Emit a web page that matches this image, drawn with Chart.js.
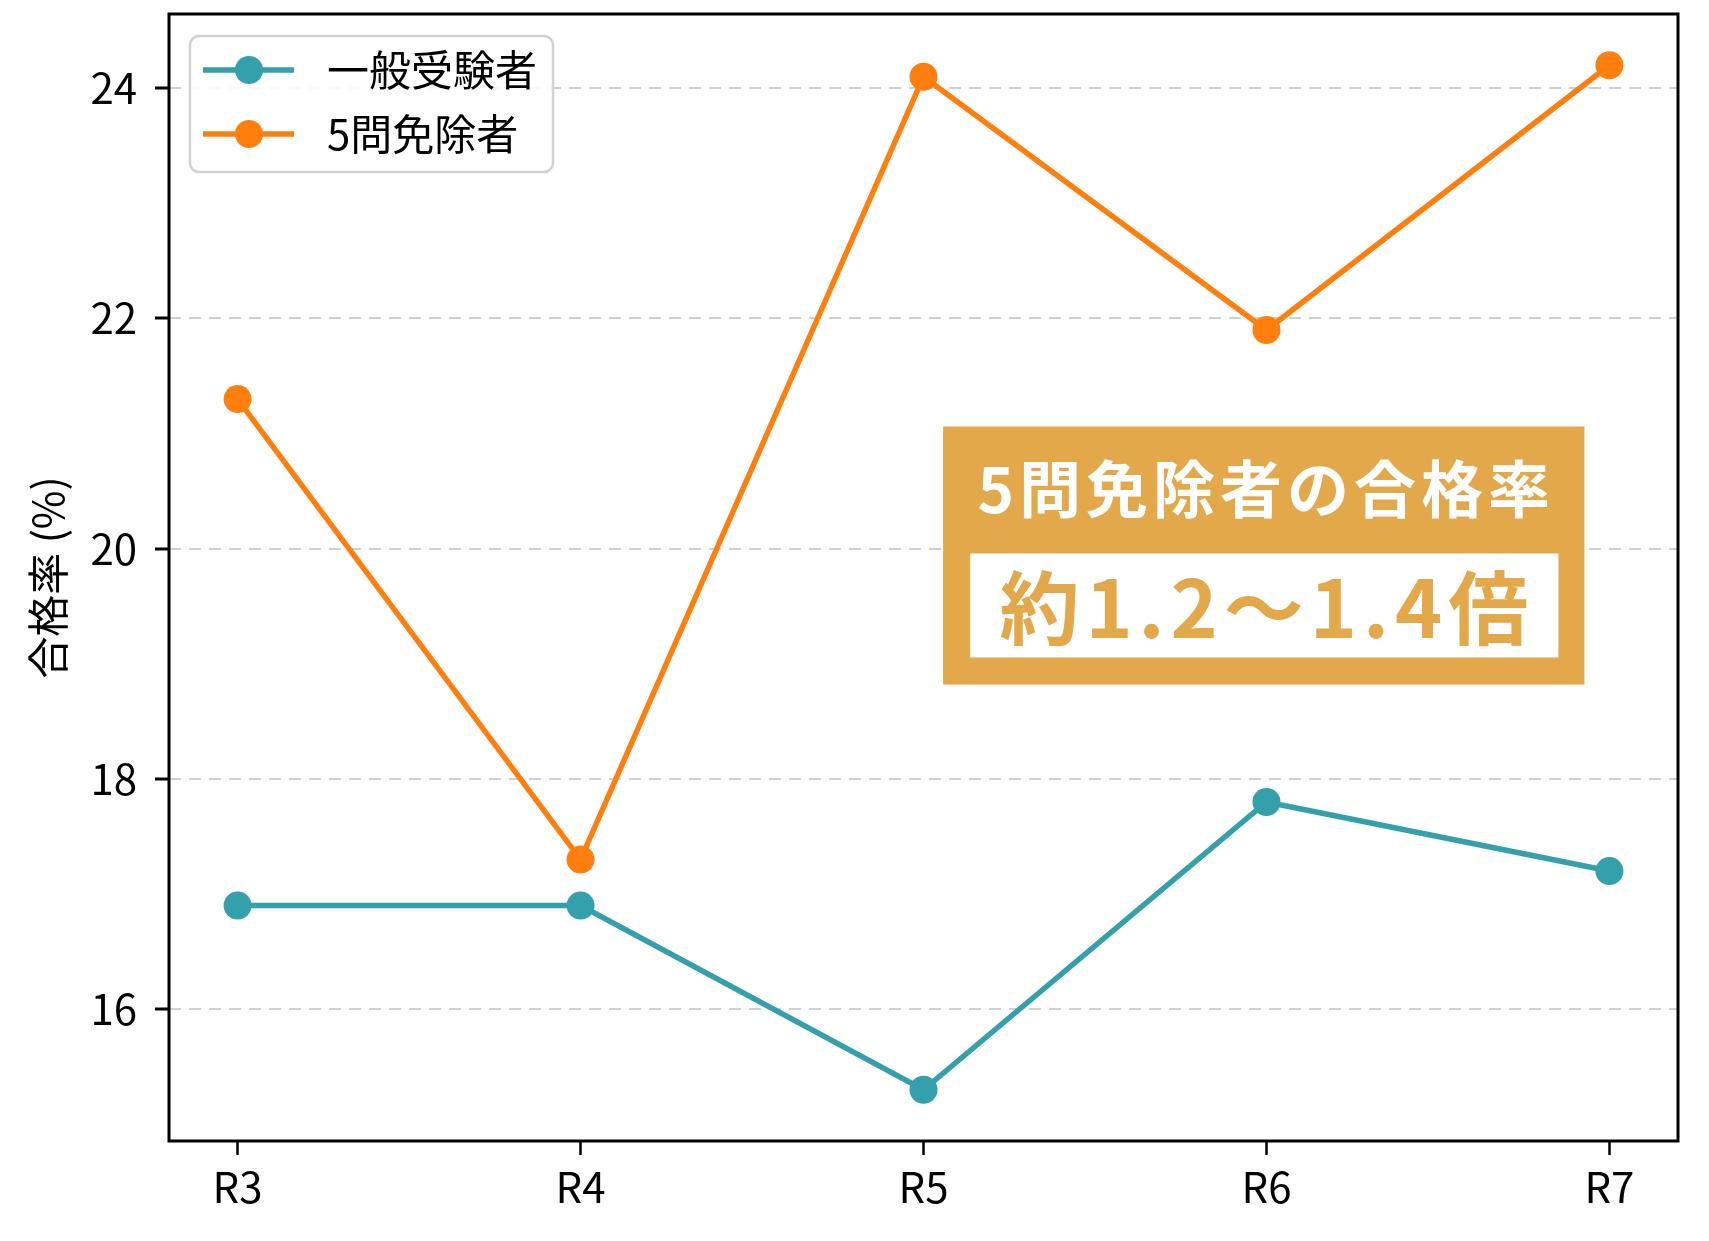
<!DOCTYPE html>
<html lang="ja">
<head>
<meta charset="utf-8">
<title>合格率の推移</title>
<script src="https://cdn.jsdelivr.net/npm/chart.js@4/dist/chart.umd.min.js"></script>
<style>
  html, body { margin: 0; padding: 0; background: #fff; }
  #wrap { width: 1709px; height: 1241px; position: relative; }
</style>
</head>
<body>
<div id="wrap"><canvas id="chart"></canvas></div>
<script>
const FONT = '"Noto Sans CJK JP", "Noto Sans", sans-serif';

const years = ["R3", "R4", "R5", "R6", "R7"];
const generalRates = [16.9, 16.9, 15.3, 17.8, 17.2];
const exemptRates = [21.3, 17.3, 24.1, 21.9, 24.2];
const seriesNames = ["一般受験者", "5問免除者"];
const yTicks = [16, 18, 20, 22, 24];
const noteTitle = "5問免除者の合格率";
const noteValue = "約1.2〜1.4倍";

const TEAL = "#34a0ac";
const ORANGE = "#ff7f0e";
const GOLD = "#e3a84a";

// matplotlib style 5% margins
const yMin = Math.min(...generalRates, ...exemptRates);
const yMax = Math.max(...generalRates, ...exemptRates);
const yPad = (yMax - yMin) * 0.05;
const xPad = (years.length - 1) * 0.05;

function points(values) {
  return values.map((v, i) => ({ x: i, y: v }));
}

const framePlugin = {
  id: "frameAndExtras",
  afterDatasetsDraw(chart) {
    const { ctx, chartArea: a } = chart;
    ctx.save();

    // note box
    const bx = a.left + (a.right - a.left) * 0.513;
    const bw = (a.right - a.left) * 0.425;
    const by = a.top + (a.bottom - a.top) * 0.366;
    const bh = (a.bottom - a.top) * 0.229;
    ctx.fillStyle = GOLD;
    ctx.fillRect(bx, by, bw, bh);
    const ix = bx + 27, iw = bw - 53;
    const iy = by + 127, ih = 104;
    ctx.fillStyle = "#fff";
    ctx.fillRect(ix, iy, iw, ih);
    const cx = bx + bw / 2;
    ctx.textAlign = "center";
    ctx.textBaseline = "middle";
    ctx.font = "bold 62px " + FONT;
    ctx.letterSpacing = "5px";
    ctx.fillStyle = "#fff";
    ctx.fillText(noteTitle, cx + 2.5, by + 63);
    ctx.font = "bold 80px " + FONT;
    ctx.letterSpacing = "6px";
    ctx.fillStyle = GOLD;
    ctx.fillText(noteValue, cx + 3, iy + ih / 2 + 2);
    ctx.letterSpacing = "0px";

    // legend
    const lx = a.left + 21, ly = a.top + 22, lw = 363, lh = 136;
    ctx.beginPath();
    ctx.roundRect(lx, ly, lw, lh, 9);
    ctx.fillStyle = "rgba(255,255,255,0.85)";
    ctx.fill();
    ctx.lineWidth = 2.5;
    ctx.strokeStyle = "#d2d2d2";
    ctx.stroke();
    chart.data.datasets.forEach((ds, i) => {
      const rowY = ly + 34 + i * 64;
      ctx.strokeStyle = ds.borderColor;
      ctx.lineWidth = 5.5;
      ctx.beginPath();
      ctx.moveTo(lx + 13, rowY);
      ctx.lineTo(lx + 104, rowY);
      ctx.stroke();
      ctx.fillStyle = ds.borderColor;
      ctx.beginPath();
      ctx.arc(lx + 59, rowY, 14, 0, Math.PI * 2);
      ctx.fill();
      ctx.fillStyle = "#000";
      ctx.font = "42px " + FONT;
      ctx.textAlign = "left";
      ctx.textBaseline = "middle";
      ctx.fillText(ds.label, lx + 137, rowY);
    });

    // frame
    ctx.strokeStyle = "#000";
    ctx.lineWidth = 3;
    ctx.strokeRect(a.left, a.top, a.right - a.left, a.bottom - a.top);
    ctx.restore();
  },
};

new Chart(document.getElementById("chart"), {
  type: "line",
  data: {
    datasets: [
      {
        label: seriesNames[0],
        data: points(generalRates),
        borderColor: TEAL,
        backgroundColor: TEAL,
        pointBackgroundColor: TEAL,
        order: 1,
      },
      {
        label: seriesNames[1],
        data: points(exemptRates),
        borderColor: ORANGE,
        backgroundColor: ORANGE,
        pointBackgroundColor: ORANGE,
        order: 0,
      },
    ],
  },
  options: {
    responsive: true,
    maintainAspectRatio: false,
    devicePixelRatio: 1,
    animation: false,
    events: [],
    layout: { padding: { top: 14, right: 31, left: 0, bottom: 0 } },
    elements: {
      line: { borderWidth: 5.5, tension: 0 },
      point: { radius: 14, borderWidth: 0 },
    },
    plugins: { legend: { display: false }, tooltip: { enabled: false } },
    scales: {
      x: {
        type: "linear",
        min: -xPad,
        max: years.length - 1 + xPad,
        afterFit: (s) => {
          s.height = 100;
          s.paddingLeft = 0;
          s.paddingRight = 0;
        },
        afterBuildTicks: (s) => { s.ticks = years.map((_, i) => ({ value: i })); },
        ticks: {
          callback: (v) => years[v],
          color: "#000",
          font: { family: FONT, size: 42 },
          padding: 7,
          maxRotation: 0,
          autoSkip: false,
        },
        grid: {
          drawOnChartArea: false,
          tickColor: "#000",
          tickWidth: 2.5,
          tickLength: 14,
        },
        border: { display: false },
      },
      y: {
        min: yMin - yPad,
        max: yMax + yPad,
        afterFit: (s) => {
          s.width = 169;
          s.paddingTop = 0;
          s.paddingBottom = 0;
        },
        afterBuildTicks: (s) => { s.ticks = yTicks.map((v) => ({ value: v })); },
        ticks: {
          color: "#000",
          font: { family: FONT, size: 42 },
          padding: 18,
        },
        grid: {
          color: "#d0d0d0",
          lineWidth: 2,
          tickColor: "#000",
          tickWidth: 3,
          tickLength: 14,
          tickBorderDash: [],
        },
        border: { display: false, dash: [12, 8] },
        title: {
          display: true,
          text: "合格率 (%)",
          color: "#000",
          font: { family: FONT, size: 42 },
          padding: { top: 23, bottom: 0 },
        },
      },
    },
  },
  plugins: [framePlugin],
});
</script>
</body>
</html>
